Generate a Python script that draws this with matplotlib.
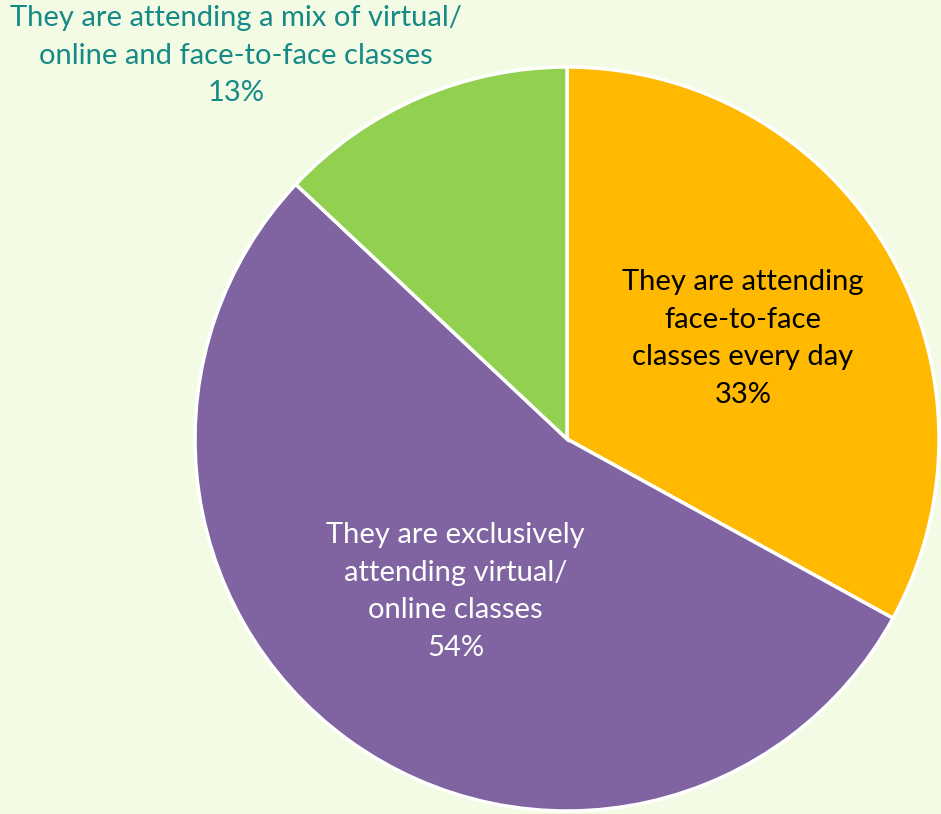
import matplotlib
matplotlib.use("Agg")
import matplotlib.pyplot as plt

categories = [
    "They are attending\nface-to-face\nclasses every day",
    "They are exclusively\nattending virtual/\nonline classes",
    "They are attending a mix of virtual/\nonline and face-to-face classes",
]
shares = [33, 54, 13]
colors = ["#FFB901", "#8064A2", "#92D050"]
text_colors = ["#000000", "#FFFFFF", "#168A86"]
# label centres in pie units (radius = 1)
label_pos = [(0.473, 0.27), (-0.30, -0.41), (-0.89, 1.03)]

bg = "#F4FBE5"
plt.rcParams["font.family"] = ["Lato", "DejaVu Sans"]

fig = plt.figure(figsize=(9.41, 8.14), dpi=100, facecolor=bg)
cx, cy, r = 567, 439, 372
W, H = 941, 814
ax = fig.add_axes([(cx - r) / W, (H - cy - r) / H, 2 * r / W, 2 * r / H])
ax.set_facecolor(bg)

ax.pie(shares, colors=colors, startangle=90, counterclock=False, radius=1,
       wedgeprops=dict(edgecolor="white", linewidth=2.5))
ax.set_xlim(-1, 1)
ax.set_ylim(-1, 1)
ax.set_aspect("equal")
ax.axis("off")

for lab, val, (x, y), tc in zip(categories, shares, label_pos, text_colors):
    ax.text(x, y, f"{lab}\n{val}%", ha="center", va="center", color=tc,
            fontsize=21, linespacing=1.55, clip_on=False)

fig.savefig("out.png", dpi=100, facecolor=bg)
